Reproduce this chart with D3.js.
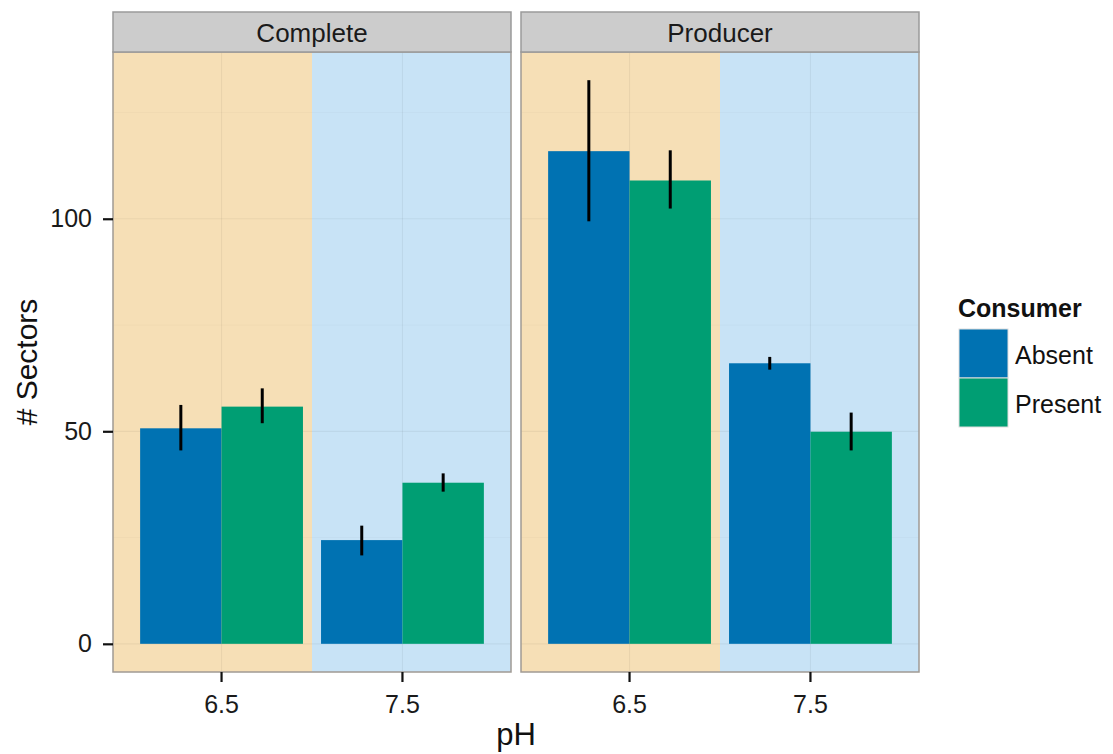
<!DOCTYPE html>
<html>
<head>
<meta charset="utf-8">
<script src="https://cdn.jsdelivr.net/npm/d3@7"></script>
<style>
  body { margin: 0; background: #fff; }
  text { font-family: "Liberation Sans", Arial, Helvetica, sans-serif; }
</style>
</head>
<body>
<div id="chart"></div>
<script>
// facets, x groups, fill groups
const panels = ["Complete", "Producer"];
const phLevels = ["6.5", "7.5"];
const consumers = ["Absent", "Present"];

// means, one value per pH level (6.5, 7.5)
const completeAbsent  = [50.7, 24.4];
const completePresent = [55.8, 37.9];
const producerAbsent  = [115.9, 66.0];
const producerPresent = [109.0, 49.9];

// error bar ends
const completeAbsentLo  = [45.5, 20.8];
const completeAbsentHi  = [56.2, 27.8];
const completePresentLo = [51.9, 35.8];
const completePresentHi = [60.1, 40.1];
const producerAbsentLo  = [99.4, 64.5];
const producerAbsentHi  = [132.6, 67.5];
const producerPresentLo = [102.4, 45.5];
const producerPresentHi = [116.1, 54.4];

const yTicks = [0, 50, 100];
const yMinor = [25, 75, 125];

const width = 1113, height = 754;
const panelTop = 52, panelBottom = 672;
const panelX = [[113, 511], [521, 919]];
const colors = { "Absent": "#0072B2", "Present": "#009E73" };
const bgColors = { "6.5": "#F6DFB6", "7.5": "#C8E3F6" };

// build rows
const rows = [];
const series = {
  "Complete": { "Absent": [completeAbsent, completeAbsentLo, completeAbsentHi],
                "Present": [completePresent, completePresentLo, completePresentHi] },
  "Producer": { "Absent": [producerAbsent, producerAbsentLo, producerAbsentHi],
                "Present": [producerPresent, producerPresentLo, producerPresentHi] }
};
panels.forEach(p => {
  consumers.forEach(c => {
    phLevels.forEach((ph, i) => {
      rows.push({ panel: p, consumer: c, ph: ph,
        value: series[p][c][0][i], lo: series[p][c][1][i], hi: series[p][c][2][i] });
    });
  });
});

const svg = d3.select("#chart").append("svg")
  .attr("width", width)
  .attr("height", height);

const maxHi = d3.max(rows, d => d.hi);
const pad = maxHi * 0.05;
const y = d3.scaleLinear()
  .domain([0 - pad, maxHi + pad])
  .range([panelBottom, panelTop]);

panels.forEach((p, pi) => {
  const [x0, x1] = panelX[pi];
  const g = svg.append("g");

  const x = d3.scaleBand()
    .domain(phLevels)
    .range([x0, x1])
    .paddingInner(0)
    .paddingOuter(0.1);

  const xSub = d3.scaleBand()
    .domain(consumers)
    .range([0, x.bandwidth()])
    .paddingInner(0)
    .paddingOuter(0.111);

  // background blocks per pH level
  phLevels.forEach((ph, i) => {
    const left = i === 0 ? x0 : x(ph);
    const right = i === phLevels.length - 1 ? x1 : x(ph) + x.bandwidth();
    g.append("rect")
      .attr("x", left)
      .attr("y", panelTop)
      .attr("width", right - left)
      .attr("height", panelBottom - panelTop)
      .attr("fill", bgColors[ph]);
  });

  // grid
  yMinor.forEach(v => {
    g.append("line")
      .attr("x1", x0).attr("x2", x1)
      .attr("y1", y(v)).attr("y2", y(v))
      .attr("stroke", "rgba(0,0,0,0.025)")
      .attr("stroke-width", 1);
  });
  yTicks.forEach(v => {
    g.append("line")
      .attr("x1", x0).attr("x2", x1)
      .attr("y1", y(v)).attr("y2", y(v))
      .attr("stroke", "rgba(0,0,0,0.05)")
      .attr("stroke-width", 1.2);
  });
  phLevels.forEach(ph => {
    const cx = x(ph) + x.bandwidth() / 2;
    g.append("line")
      .attr("x1", cx).attr("x2", cx)
      .attr("y1", panelTop).attr("y2", panelBottom)
      .attr("stroke", "rgba(0,0,0,0.05)")
      .attr("stroke-width", 1.2);
  });

  const data = rows.filter(d => d.panel === p);

  g.selectAll(".bar")
    .data(data)
    .enter().append("rect")
    .attr("class", "bar")
    .attr("x", d => x(d.ph) + xSub(d.consumer))
    .attr("y", d => y(d.value))
    .attr("width", xSub.bandwidth())
    .attr("height", d => y(0) - y(d.value))
    .attr("fill", d => colors[d.consumer]);

  g.selectAll(".err")
    .data(data)
    .enter().append("line")
    .attr("class", "err")
    .attr("x1", d => x(d.ph) + xSub(d.consumer) + xSub.bandwidth() / 2)
    .attr("x2", d => x(d.ph) + xSub(d.consumer) + xSub.bandwidth() / 2)
    .attr("y1", d => y(d.lo))
    .attr("y2", d => y(d.hi))
    .attr("stroke", "#000")
    .attr("stroke-width", 3);

  // panel border
  g.append("rect")
    .attr("x", x0).attr("y", panelTop)
    .attr("width", x1 - x0).attr("height", panelBottom - panelTop)
    .attr("fill", "none")
    .attr("stroke", "#a09a94")
    .attr("stroke-width", 1.5);

  // strip
  g.append("rect")
    .attr("x", x0).attr("y", 12)
    .attr("width", x1 - x0).attr("height", panelTop - 12)
    .attr("fill", "#cccccc")
    .attr("stroke", "#9a9a9a")
    .attr("stroke-width", 1.5);
  g.append("text")
    .attr("x", (x0 + x1) / 2)
    .attr("y", 42)
    .attr("text-anchor", "middle")
    .style("font-size", "26px")
    .attr("fill", "#1a1a1a")
    .text(p);

  // x axis
  const xAxis = g.append("g")
    .attr("transform", `translate(0,${panelBottom})`)
    .call(d3.axisBottom(x).tickSize(10).tickSizeOuter(0));
  xAxis.select(".domain").remove();
  xAxis.selectAll(".tick line").attr("stroke", "#111").attr("stroke-width", 2.2);
  xAxis.selectAll(".tick text")
    .attr("y", 23)
    .attr("dy", "0.71em")
    .style("font-size", "25px")
    .attr("fill", "#1a1a1a");

  if (pi === 0) {
    const yAxis = g.append("g")
      .attr("transform", `translate(${x0},0)`)
      .call(d3.axisLeft(y).tickValues(yTicks).tickSize(10).tickSizeOuter(0));
    yAxis.select(".domain").remove();
    yAxis.selectAll(".tick line").attr("stroke", "#111").attr("stroke-width", 2.2);
    yAxis.selectAll(".tick text")
      .attr("x", -21)
      .style("font-size", "25px")
      .attr("fill", "#1a1a1a");
  }
});

// axis titles
svg.append("text")
  .attr("x", (panelX[0][0] + panelX[1][1]) / 2)
  .attr("y", 745)
  .attr("text-anchor", "middle")
  .style("font-size", "31px")
  .attr("fill", "#111")
  .text("pH");

svg.append("text")
  .attr("transform", `translate(37,${(panelTop + panelBottom) / 2}) rotate(-90)`)
  .attr("text-anchor", "middle")
  .style("font-size", "30px")
  .attr("fill", "#111")
  .text("# Sectors");

// legend
const legend = svg.append("g").attr("transform", "translate(958,0)");
legend.append("text")
  .attr("x", 0)
  .attr("y", 317)
  .style("font-size", "25px")
  .style("font-weight", "bold")
  .attr("fill", "#111")
  .text("Consumer");

const item = legend.selectAll(".item")
  .data(consumers)
  .enter().append("g")
  .attr("class", "item")
  .attr("transform", (d, i) => `translate(0,${329 + i * 49})`);

item.append("rect")
  .attr("x", 1).attr("y", 0)
  .attr("width", 49).attr("height", 49)
  .attr("fill", d => colors[d])
  .attr("stroke", "#dddddd")
  .attr("stroke-width", 1);

item.append("text")
  .attr("x", 57)
  .attr("y", 26)
  .attr("dy", "0.35em")
  .style("font-size", "25px")
  .attr("fill", "#111")
  .text(d => d);
</script>
</body>
</html>
